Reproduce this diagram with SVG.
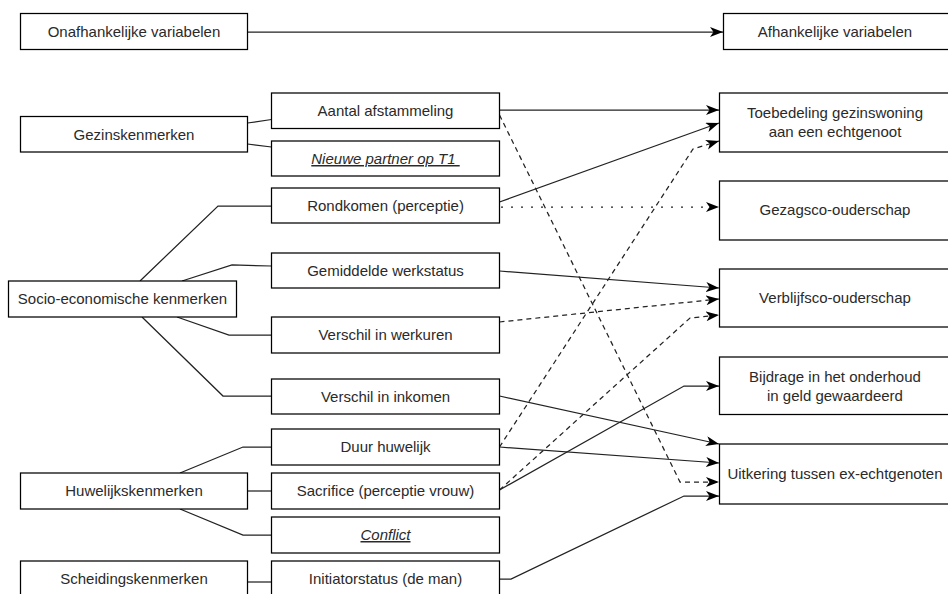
<svg xmlns="http://www.w3.org/2000/svg" width="948" height="594" viewBox="0 0 948 594">
<defs>
<style>
.n rect{fill:#fff;stroke:#000;stroke-width:1.25}
text{font-family:"Liberation Sans",Arial,Helvetica,sans-serif;font-size:15px;fill:#2a2a2a;text-anchor:middle}
.it{font-style:italic;text-decoration:underline}
.c path{fill:none;stroke:#222;stroke-width:1.25}
.c .a{marker-end:url(#arr)}
.c .d{stroke-dasharray:5 4}
.c .o{stroke-dasharray:2 8}
</style>
<marker id="arr" markerUnits="userSpaceOnUse" markerWidth="14" markerHeight="11" refX="13" refY="5" orient="auto" viewBox="0 0 14 11">
<path d="M0,0 L13,5 L0,10 L3.5,5 Z" fill="#000"/>
</marker>
</defs>
<rect width="948" height="594" fill="#fff"/>
<g class="c" id="connectors">
<path class="a" d="M247.5,32 L723,32"/>
<path d="M247.5,123 L271.5,119.5"/>
<path d="M247.5,144 L271.5,147"/>
<path d="M140,281 L218,206 L271.5,206"/>
<path d="M182,281 L232,265 L271.5,266"/>
<path d="M177,317 L229,335 L271.5,335"/>
<path d="M142,317 L223,396 L271.5,396"/>
<path d="M180,473 L243,447 L271.5,447"/>
<path d="M247.5,491 L271.5,491"/>
<path d="M180,509 L243,535 L271.5,535"/>
<path d="M247.5,582 L271.5,582"/>
<path class="a" d="M499.5,110 L719,110"/>
<path class="a" d="M499.5,202 L719,123"/>
<path class="a d" d="M499.5,447 L693,149 L719,141"/>
<path class="a o" d="M501,207 L719,207"/>
<path class="a" d="M499.5,271 L719,288"/>
<path class="a d" d="M499.5,322 L719,299"/>
<path class="a d" d="M499.5,490 L690,318 L719,315"/>
<path class="a" d="M499.5,490 L684,386 L719,386"/>
<path class="a" d="M499.5,396 L719,444"/>
<path class="a" d="M499.5,447 L719,463"/>
<path class="a d" d="M499.5,115 L680,482 L719,482"/>
<path class="a" d="M499.5,579 L511,579 L684,496 L719,496"/>
</g>
<g class="n" id="onafhankelijke"><rect x="20.5" y="13.5" width="227" height="36"/><text x="134" y="37">Onafhankelijke variabelen</text></g>
<g class="n" id="gezinskenmerken"><rect x="20.5" y="116.5" width="227" height="35.5"/><text x="134" y="139.5">Gezinskenmerken</text></g>
<g class="n" id="socio"><rect x="8.5" y="281" width="228" height="36"/><text x="122.5" y="304">Socio-economische kenmerken</text></g>
<g class="n" id="huwelijkskenmerken"><rect x="20.5" y="473" width="227" height="36"/><text x="134" y="496">Huwelijkskenmerken</text></g>
<g class="n" id="scheidingskenmerken"><rect x="20.5" y="561" width="227" height="36"/><text x="134" y="584">Scheidingskenmerken</text></g>
<g class="n" id="aantal"><rect x="271.5" y="93" width="228" height="35.5"/><text x="385.5" y="116">Aantal afstammeling</text></g>
<g class="n" id="nieuwe"><rect x="271.5" y="141" width="228" height="35"/><text class="it" x="385.5" y="164" xml:space="preserve">Nieuwe partner op T1 </text></g>
<g class="n" id="rondkomen"><rect x="271.5" y="188" width="228" height="35"/><text x="385.5" y="211">Rondkomen (perceptie)</text></g>
<g class="n" id="gemiddelde"><rect x="271.5" y="253" width="228" height="35"/><text x="385.5" y="276">Gemiddelde werkstatus</text></g>
<g class="n" id="werkuren"><rect x="271.5" y="317" width="228" height="36"/><text x="385.5" y="340">Verschil in werkuren</text></g>
<g class="n" id="inkomen"><rect x="271.5" y="379" width="228" height="35"/><text x="385.5" y="402">Verschil in inkomen</text></g>
<g class="n" id="duur"><rect x="271.5" y="429" width="228" height="36"/><text x="385.5" y="452">Duur huwelijk</text></g>
<g class="n" id="sacrifice"><rect x="271.5" y="473" width="228" height="36"/><text x="385.5" y="496">Sacrifice (perceptie vrouw)</text></g>
<g class="n" id="conflict"><rect x="271.5" y="517" width="228" height="36"/><text class="it" x="385.5" y="540">Conflict</text></g>
<g class="n" id="initiator"><rect x="271.5" y="561" width="228" height="36"/><text x="385.5" y="584">Initiatorstatus (de man)</text></g>
<g class="n" id="afhankelijke"><rect x="723.5" y="13.5" width="240" height="36"/><text x="835" y="37">Afhankelijke variabelen</text></g>
<g class="n" id="toebedeling"><rect x="719.5" y="93" width="240" height="59"/><text x="835" y="118">Toebedeling gezinswoning</text><text x="835" y="136.5">aan een echtgenoot</text></g>
<g class="n" id="gezagsco"><rect x="719.5" y="181" width="240" height="59"/><text x="835" y="215">Gezagsco-ouderschap</text></g>
<g class="n" id="verblijfsco"><rect x="719.5" y="269" width="240" height="58"/><text x="835" y="303">Verblijfsco-ouderschap</text></g>
<g class="n" id="bijdrage"><rect x="719.5" y="357" width="240" height="57.5"/><text x="835" y="382">Bijdrage in het onderhoud</text><text x="835" y="401">in geld gewaardeerd</text></g>
<g class="n" id="uitkering"><rect x="719.5" y="444" width="240" height="60"/><text x="835" y="479">Uitkering tussen ex-echtgenoten</text></g>
</svg>
